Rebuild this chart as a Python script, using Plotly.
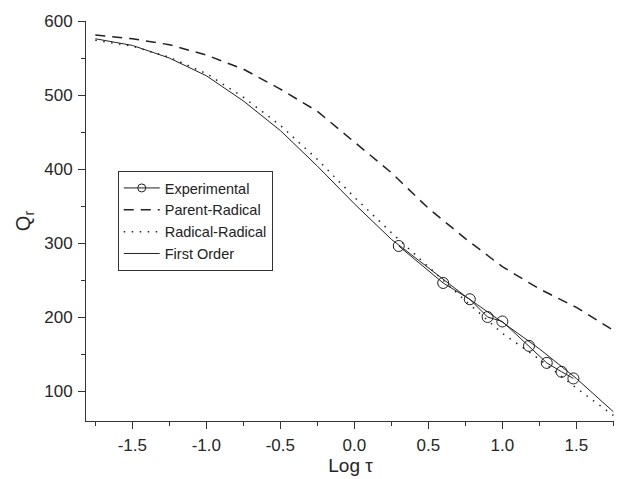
import plotly.graph_objects as go

# Model curves (Log tau grid)
log_tau_model = [-1.75, -1.5, -1.25, -1.0, -0.75, -0.5, -0.25, 0.0, 0.25, 0.5, 0.75, 1.0, 1.25, 1.5, 1.75]
parent_radical = [581, 576, 568, 554, 535, 508, 478, 437, 395, 347, 306, 268, 238, 213, 182]
radical_radical = [574, 566, 551, 529, 497, 459, 413, 362, 314, 268, 222, 178, 143, 104, 67]
first_order = [576, 567, 550, 526, 492, 452, 404, 353, 305, 266, 228, 193, 157, 117, 72]

# Experimental points
log_tau_exp = [0.30, 0.60, 0.78, 0.90, 1.00, 1.18, 1.30, 1.40, 1.48]
q_exp = [296, 246, 224, 200, 194, 161, 138, 126, 117]

# Tick labels
x_tick_vals = [-1.5, -1.0, -0.5, 0.0, 0.5, 1.0, 1.5]
x_tick_text = ["-1.5", "-1.0", "-0.5", "0.0", "0.5", "1.0", "1.5"]
y_tick_vals = [100, 200, 300, 400, 500, 600]

FONT = "Liberation Sans, Arial, sans-serif"
INK = "#222222"
AX = "#333333"

fig = go.Figure()
# Experimental data (plot) + legend-only entry with a smaller marker
fig.add_trace(go.Scatter(
    x=log_tau_exp, y=q_exp, mode="lines+markers", name="Experimental",
    showlegend=False,
    line=dict(color=INK, width=1),
    marker=dict(symbol="circle-open", size=11, color=INK, line=dict(width=1, color=INK)),
))
fig.add_trace(go.Scatter(
    x=[None], y=[None], mode="lines+markers", name="Experimental",
    line=dict(color=INK, width=1),
    marker=dict(symbol="circle-open", size=8, color=INK, line=dict(width=1, color=INK)),
))
fig.add_trace(go.Scatter(
    x=log_tau_model, y=parent_radical, mode="lines", name="Parent-Radical",
    line=dict(color=INK, width=1.5, dash="10px,7px"),
))
fig.add_trace(go.Scatter(
    x=log_tau_model, y=radical_radical, mode="lines", name="Radical-Radical",
    line=dict(color=INK, width=1.5, dash="1.5px,6.5px"),
))
fig.add_trace(go.Scatter(
    x=log_tau_model, y=first_order, mode="lines", name="First Order",
    line=dict(color=INK, width=1),
))

# page body has an 8px margin, so the figure is sized/offset to compensate
fig.update_layout(
    width=614, height=471,
    margin=dict(l=78, r=7, t=13, b=58, autoexpand=False),
    paper_bgcolor="white", plot_bgcolor="white",
    font=dict(family=FONT, color="#262626", size=17),
    showlegend=True,
    legend=dict(
        x=0.06, y=0.625, xanchor="left", yanchor="top",
        bordercolor=AX, borderwidth=1, bgcolor="white",
        font=dict(family=FONT, size=14.5, color="#222222"),
        itemwidth=36, tracegroupgap=0,
    ),
    xaxis=dict(
        range=[-1.813, 1.761], showgrid=False, zeroline=False,
        showline=True, linecolor=AX, linewidth=1,
        ticks="outside", ticklen=7, tickcolor=AX,
        tickvals=x_tick_vals, ticktext=x_tick_text,
        ticklabelstandoff=2,
        minor=dict(tickvals=[-1.75, -1.25, -0.75, -0.25, 0.25, 0.75, 1.25, 1.75],
                   ticks="outside", ticklen=4, tickcolor=AX),
        title=dict(text="Log τ", font=dict(size=19), standoff=3),
    ),
    yaxis=dict(
        range=[59.5, 600], showgrid=False, zeroline=False,
        showline=True, linecolor=AX, linewidth=1,
        ticks="outside", ticklen=7, tickcolor=AX,
        tickvals=y_tick_vals, ticklabelstandoff=2,
        minor=dict(tickvals=[150, 250, 350, 450, 550],
                   ticks="outside", ticklen=4, tickcolor=AX),
        title=dict(text="Q<sub>r</sub>", font=dict(size=20), standoff=8),
    ),
)

fig.write_html("out.html")
